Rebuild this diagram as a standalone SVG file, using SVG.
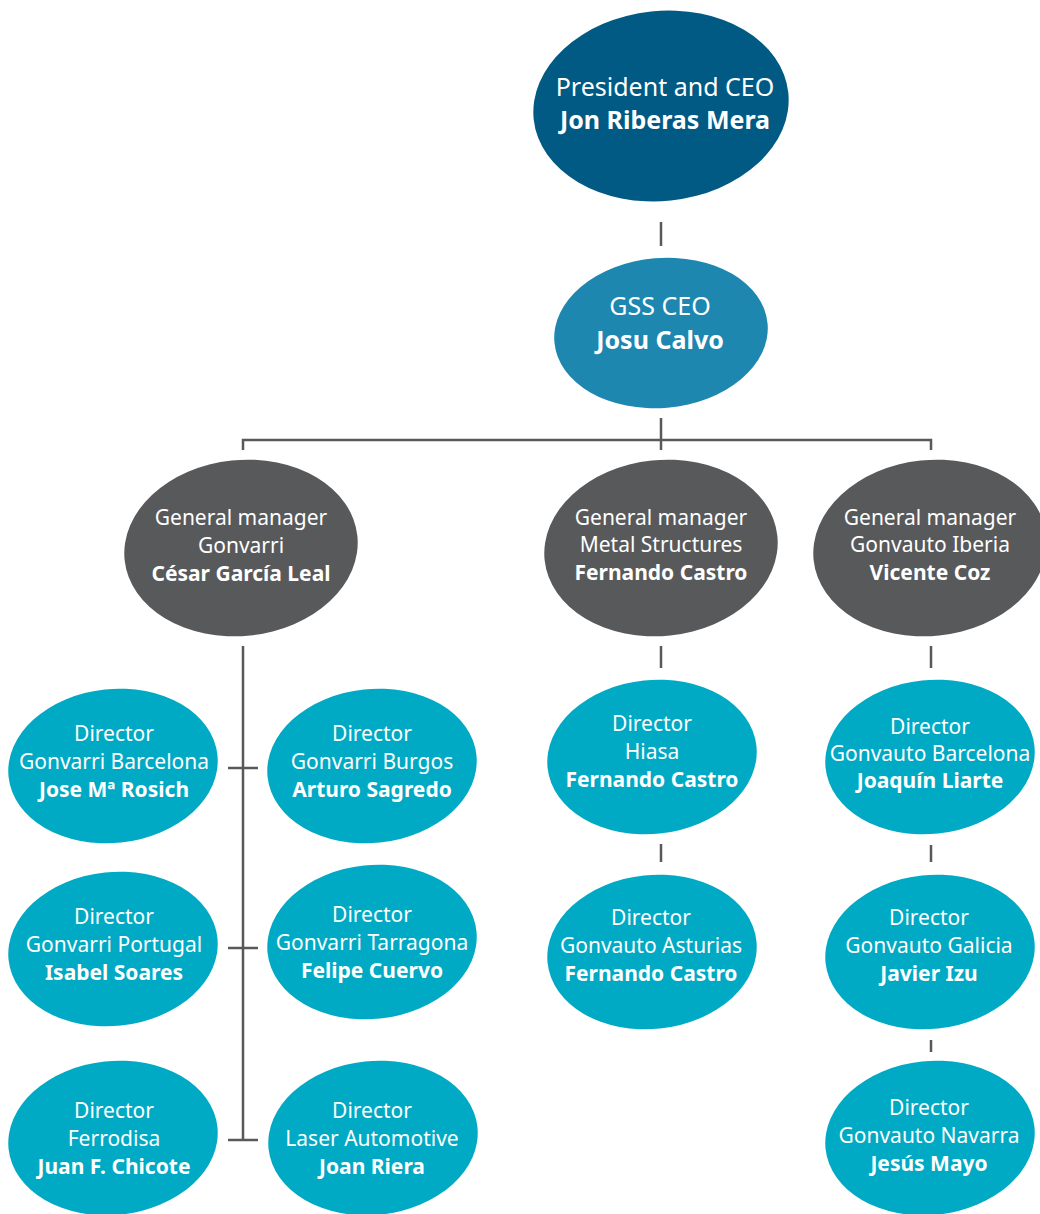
<svg xmlns="http://www.w3.org/2000/svg" width="1040" height="1214" viewBox="0 0 1040 1214">
<style>
text{font-family:"Noto Sans","Open Sans","Liberation Sans",sans-serif;fill:#fff;text-anchor:middle}
.t{font-size:21px}
.b{font-size:21px;font-weight:bold}
.tl{font-size:25px}
.bl{font-size:25px;font-weight:bold}
.top{fill:#005a83}
.gss{fill:#1e87b0}
.gm{fill:#58595b}
.dir{fill:#00aac4}
.c{stroke:#58595b;stroke-width:2.5;fill:none}
</style>
<g id="connectors">
<path class="c" d="M661 222V246"/>
<path class="c" d="M661 418V450M243 450V440H931V450"/>
<path class="c" d="M243 646V1140M228 768H258M228 948H258M228 1140H258"/>
<path class="c" d="M661 646V668M661 844V862"/>
<path class="c" d="M931 646V668M931 845V862M931 1040V1052"/>
</g>
<g id="president">
<ellipse class="top" cx="661" cy="106" rx="128" ry="95" transform="rotate(-6 661 106)"/>
<text class="tl" x="665" y="96">President and CEO</text>
<text class="bl" x="665" y="129">Jon Riberas Mera</text>
</g>
<g id="gss-ceo">
<ellipse class="gss" cx="661" cy="333" rx="107" ry="75" transform="rotate(-5 661 333)"/>
<text class="tl" x="660" y="315">GSS CEO</text>
<text class="bl" x="660" y="349">Josu Calvo</text>
</g>
<g id="gm-gonvarri">
<ellipse class="gm" cx="241" cy="548" rx="117" ry="88" transform="rotate(-6 241 548)"/>
<text class="t" x="241" y="525">General manager</text>
<text class="t" x="241" y="553">Gonvarri</text>
<text class="b" x="241" y="581">César García Leal</text>
</g>
<g id="gm-metal">
<ellipse class="gm" cx="661" cy="548" rx="117" ry="88" transform="rotate(-6 661 548)"/>
<text class="t" x="661" y="525">General manager</text>
<text class="t" x="661" y="552">Metal Structures</text>
<text class="b" x="661" y="580">Fernando Castro</text>
</g>
<g id="gm-gonvauto">
<ellipse class="gm" cx="930" cy="548" rx="117" ry="88" transform="rotate(-6 930 548)"/>
<text class="t" x="930" y="525">General manager</text>
<text class="t" x="930" y="552">Gonvauto Iberia</text>
<text class="b" x="930" y="580">Vicente Coz</text>
</g>
<g id="dir-barcelona">
<ellipse class="dir" cx="113" cy="766" rx="105" ry="77" transform="rotate(-6 113 766)"/>
<text class="t" x="114" y="741">Director</text>
<text class="t" x="114" y="769">Gonvarri Barcelona</text>
<text class="b" x="114" y="797">Jose Mª Rosich</text>
</g>
<g id="dir-burgos">
<ellipse class="dir" cx="372" cy="766" rx="105" ry="77" transform="rotate(-6 372 766)"/>
<text class="t" x="372" y="741">Director</text>
<text class="t" x="372" y="769">Gonvarri Burgos</text>
<text class="b" x="372" y="797">Arturo Sagredo</text>
</g>
<g id="dir-portugal">
<ellipse class="dir" cx="113" cy="949" rx="105" ry="77" transform="rotate(-6 113 949)"/>
<text class="t" x="114" y="924">Director</text>
<text class="t" x="114" y="952">Gonvarri Portugal</text>
<text class="b" x="114" y="980">Isabel Soares</text>
</g>
<g id="dir-tarragona">
<ellipse class="dir" cx="372" cy="942" rx="105" ry="77" transform="rotate(-6 372 942)"/>
<text class="t" x="372" y="922">Director</text>
<text class="t" x="372" y="950">Gonvarri Tarragona</text>
<text class="b" x="372" y="978">Felipe Cuervo</text>
</g>
<g id="dir-ferrodisa">
<ellipse class="dir" cx="113" cy="1138" rx="105" ry="77" transform="rotate(-6 113 1138)"/>
<text class="t" x="114" y="1118">Director</text>
<text class="t" x="114" y="1146">Ferrodisa</text>
<text class="b" x="114" y="1174">Juan F. Chicote</text>
</g>
<g id="dir-laser">
<ellipse class="dir" cx="373" cy="1138" rx="105" ry="77" transform="rotate(-6 373 1138)"/>
<text class="t" x="372" y="1118">Director</text>
<text class="t" x="372" y="1146">Laser Automotive</text>
<text class="b" x="372" y="1174">Joan Riera</text>
</g>
<g id="dir-hiasa">
<ellipse class="dir" cx="652" cy="757" rx="105" ry="77" transform="rotate(-6 652 757)"/>
<text class="t" x="652" y="731">Director</text>
<text class="t" x="652" y="759">Hiasa</text>
<text class="b" x="652" y="787">Fernando Castro</text>
</g>
<g id="dir-asturias">
<ellipse class="dir" cx="652" cy="952" rx="105" ry="77" transform="rotate(-6 652 952)"/>
<text class="t" x="651" y="925">Director</text>
<text class="t" x="651" y="953">Gonvauto Asturias</text>
<text class="b" x="651" y="981">Fernando Castro</text>
</g>
<g id="dir-gv-barcelona">
<ellipse class="dir" cx="930" cy="757" rx="105" ry="77" transform="rotate(-6 930 757)"/>
<text class="t" x="930" y="734">Director</text>
<text class="t" x="930" y="761">Gonvauto Barcelona</text>
<text class="b" x="930" y="788">Joaquín Liarte</text>
</g>
<g id="dir-galicia">
<ellipse class="dir" cx="930" cy="952" rx="105" ry="77" transform="rotate(-6 930 952)"/>
<text class="t" x="929" y="925">Director</text>
<text class="t" x="929" y="953">Gonvauto Galicia</text>
<text class="b" x="929" y="981">Javier Izu</text>
</g>
<g id="dir-navarra">
<ellipse class="dir" cx="930" cy="1138" rx="105" ry="77" transform="rotate(-6 930 1138)"/>
<text class="t" x="929" y="1115">Director</text>
<text class="t" x="929" y="1143">Gonvauto Navarra</text>
<text class="b" x="929" y="1171">Jesús Mayo</text>
</g>
</svg>
